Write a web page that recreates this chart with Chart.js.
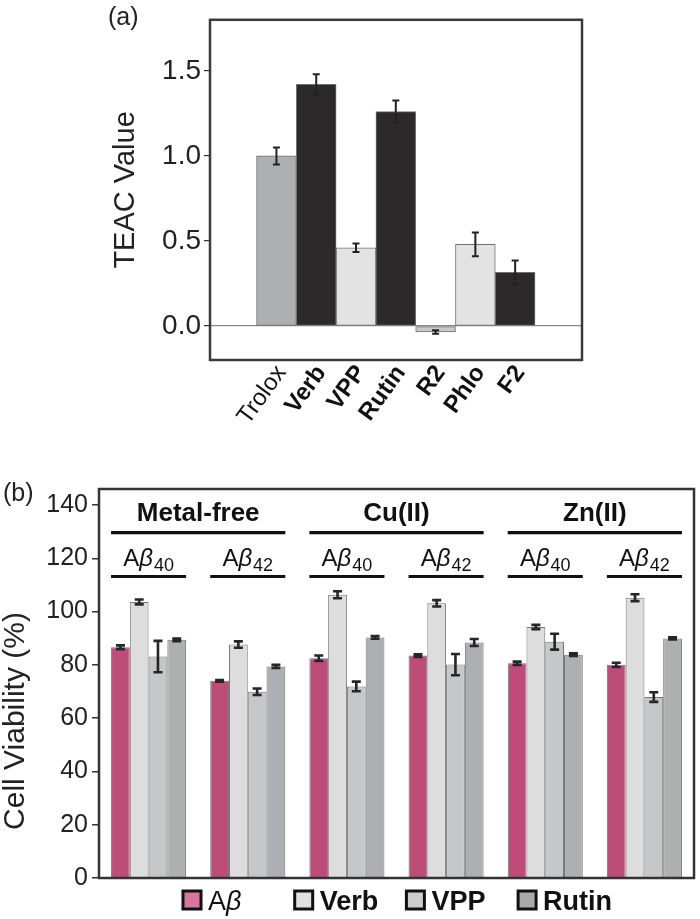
<!DOCTYPE html>
<html>
<head>
<meta charset="utf-8">
<script src="https://cdn.jsdelivr.net/npm/chart.js@4.4.1/dist/chart.umd.min.js"></script>
<style>
  html, body { margin: 0; padding: 0; background: #fff; }
  #wrap { position: relative; width: 700px; height: 919px; }
  canvas { position: absolute; left: 0; }
  #teac { top: 0; }
  #viab { top: 470px; }
</style>
</head>
<body>
<div id="wrap">
  <canvas id="teac" width="700" height="470"></canvas>
  <canvas id="viab" width="700" height="449"></canvas>
</div>
<script>
'use strict';

// ─── Data: panel (a) TEAC ─────────────────────────────────────────
const teacLabels = ['Trolox', 'Verb', 'VPP', 'Rutin', 'R2', 'Phlo', 'F2'];
const teacBold   = [false, true, true, true, true, true, true];
const teacValues = [1.00, 1.42, 0.46, 1.26, -0.035, 0.48, 0.315];
const teacErrors = [0.05, 0.06, 0.025, 0.065, 0.01, 0.07, 0.07];
const teacTicks  = [0, 0.5, 1.0, 1.5];

// ─── Data: panel (b) cell viability ───────────────────────────────
const cvConditions = ['Metal-free', 'Cu(II)', 'Zn(II)'];
const cvPeptides   = ['40', '42'];
const cvCategories = ['Metal-free Aβ40', 'Metal-free Aβ42', 'Cu(II) Aβ40', 'Cu(II) Aβ42', 'Zn(II) Aβ40', 'Zn(II) Aβ42'];
const cvSeries     = ['Aβ', 'Verb', 'VPP', 'Rutin'];
const abValues     = [86.6, 74.0, 82.5, 83.5, 80.6, 80.0];
const abErrors     = [0.7, 0.3, 1.0, 0.5, 0.6, 0.8];
const verbValues   = [103.6, 87.6, 106.3, 103.1, 94.2, 105.2];
const verbErrors   = [0.9, 1.2, 1.3, 1.2, 0.8, 1.3];
const vppValues    = [83.1, 69.9, 71.9, 80.1, 88.7, 67.9];
const vppErrors    = [5.9, 1.2, 1.8, 4.0, 3.0, 1.8];
const rutinValues  = [89.4, 79.4, 90.3, 88.4, 83.8, 89.9];
const rutinErrors  = [0.5, 0.6, 0.5, 1.3, 0.5, 0.4];
const cvTicks      = [0, 20, 40, 60, 80, 100, 120, 140];

// ─── Styling ──────────────────────────────────────────────────────
const FONT = '"Liberation Sans", Arial, Helvetica, sans-serif';
const INK = '#222';
const teacColors = ['#aeafb2', '#2b292a', '#e3e3e3', '#2b292a', '#c9c9cb', '#e3e3e3', '#2b292a'];
const cvColors   = ['#be4c78', '#dddddd', '#c6c7c9', '#aeafb2'];
const cvLegendFill = ['#d6769c', '#e0e0e0', '#cdcdcd', '#a9a9ab'];

Chart.defaults.font.family = FONT;
Chart.defaults.color = INK;
Chart.defaults.animation = false;

// ─── Shared plugins ───────────────────────────────────────────────
// Frame round the plot area
const framePlugin = {
  id: 'frame',
  afterDraw(chart, args, opts) {
    const { ctx, chartArea: a } = chart;
    ctx.save();
    ctx.strokeStyle = opts.color || '#333';
    ctx.lineWidth = opts.width || 2.5;
    ctx.strokeRect(a.left, a.top, a.right - a.left, a.bottom - a.top);
    ctx.restore();
  }
};

// Error bars read from dataset.errors
const errorBarPlugin = {
  id: 'errbars',
  afterDatasetsDraw(chart, args, opts) {
    const { ctx } = chart;
    const y = chart.scales.y;
    ctx.save();
    ctx.strokeStyle = opts.color || '#222';
    ctx.lineWidth = opts.width || 2;
    chart.data.datasets.forEach((ds, d) => {
      if (!ds.errors) return;
      chart.getDatasetMeta(d).data.forEach((bar, i) => {
        const raw = ds.data[i];
        const v = typeof raw === 'object' ? raw.y : raw;
        const e = ds.errors[i];
        const y1 = y.getPixelForValue(v + e), y2 = y.getPixelForValue(v - e);
        const c = opts.cap || 3.5;
        ctx.beginPath();
        ctx.moveTo(bar.x, y1); ctx.lineTo(bar.x, y2);
        ctx.moveTo(bar.x - c, y1); ctx.lineTo(bar.x + c, y1);
        ctx.moveTo(bar.x - c, y2); ctx.lineTo(bar.x + c, y2);
        ctx.stroke();
      });
    });
    ctx.restore();
  }
};

// Panel letter
const panelLetterPlugin = {
  id: 'letter',
  afterDraw(chart, args, opts) {
    const { ctx } = chart;
    ctx.save();
    ctx.font = '25px ' + FONT;
    ctx.fillStyle = INK;
    ctx.textBaseline = 'alphabetic';
    ctx.fillText(opts.text, opts.x, opts.y);
    ctx.restore();
  }
};

// ─── Panel (a) ────────────────────────────────────────────────────
new Chart(document.getElementById('teac'), {
  type: 'bar',
  data: {
    datasets: [{
      label: 'TEAC',
      data: teacValues.map((v, i) => ({ x: i, y: v })),
      errors: teacErrors,
      backgroundColor: teacColors,
      borderColor: '#707070',
      borderWidth: 1,
      borderSkipped: false,
      categoryPercentage: 1,
      barPercentage: 1,
    }]
  },
  options: {
    responsive: false,
    layout: { padding: { left: 109, top: 9, right: 118, bottom: 0 } },
    scales: {
      x: {
        type: 'linear',
        offset: false,
        min: -1.67,
        max: 7.68,
        grid: { display: false },
        border: { display: false },
        afterBuildTicks: s => { s.ticks = teacLabels.map((_, i) => ({ value: i })); },
        afterFit: s => { s.height = 110; },
        ticks: {
          autoSkip: false,
          minRotation: 54,
          maxRotation: 54,
          padding: -8,
          labelOffset: 5,
          color: '#111',
          font: ctx => ({ size: 24, weight: teacBold[ctx.index] ? 'bold' : 'normal', family: FONT }),
          callback: v => teacLabels[v] ?? '',
        },
      },
      y: {
        min: -0.2,
        max: 1.8,
        afterBuildTicks: s => { s.ticks = teacTicks.map(v => ({ value: v })); },
        afterFit: s => { s.width = 101; },
        border: { display: false },
        grid: {
          drawOnChartArea: true,
          color: ctx => (ctx.tick && ctx.tick.value === 0 ? '#8a8a8a' : 'rgba(0,0,0,0)'),
          lineWidth: 1.2,
          tickColor: '#333',
          tickLength: 6,
        },
        ticks: {
          padding: 3,
          font: { size: 28 },
          color: INK,
          callback: v => Number(v).toFixed(1),
        },
        title: {
          display: true,
          text: 'TEAC Value',
          color: INK,
          font: { size: 29 },
          padding: 0,
        },
      },
    },
    plugins: {
      legend: { display: false },
      tooltip: { enabled: false },
      frame: { color: '#3a3a3a', width: 2.5 },
      errbars: { color: '#222', width: 2, cap: 3.5 },
      letter: { text: '(a)', x: 108, y: 25 },
    },
  },
  plugins: [framePlugin, errorBarPlugin, panelLetterPlugin],
});

// ─── Panel (b) annotations: condition headers, legend, axis title ─
function drawAbeta(ctx, cx, baseline, sub, size) {
  const norm = size + 'px ' + FONT, ital = 'italic ' + size + 'px ' + FONT;
  const small = Math.round(size * 0.75) + 'px ' + FONT;
  ctx.font = norm; const wA = ctx.measureText('A').width;
  ctx.font = ital; const wB = ctx.measureText('β').width;
  ctx.font = small; const wS = sub ? ctx.measureText(sub).width : 0;
  let x = cx - (wA + wB + (sub ? 1 + wS : 0)) / 2;
  ctx.textAlign = 'left';
  ctx.font = norm; ctx.fillText('A', x, baseline); x += wA;
  ctx.font = ital; ctx.fillText('β', x, baseline); x += wB + 1;
  if (sub) { ctx.font = small; ctx.fillText(sub, x, baseline + 5); }
  return wA + wB;
}

const viabilityDecor = {
  id: 'viabDecor',
  afterDraw(chart) {
    const { ctx, chartArea: a } = chart;
    const first = chart.getDatasetMeta(0).data;
    const last = chart.getDatasetMeta(chart.data.datasets.length - 1).data;
    const leftOf = i => first[i].x - first[i].width / 2;
    const rightOf = i => last[i].x + last[i].width / 2;
    ctx.save();
    ctx.fillStyle = '#111';
    ctx.textBaseline = 'alphabetic';

    // Condition headers with underline
    cvConditions.forEach((name, g) => {
      const l = leftOf(2 * g), r = rightOf(2 * g + 1);
      ctx.font = 'bold 26px ' + FONT;
      ctx.textAlign = 'center';
      ctx.fillText(name, (l + r) / 2, a.top + 32);
      ctx.fillRect(l, a.top + 42, r - l, 3.3);
      // Peptide sub-headers
      cvPeptides.forEach((p, k) => {
        const i = 2 * g + k;
        const pl = leftOf(i), pr = rightOf(i);
        drawAbeta(ctx, (pl + pr) / 2, a.top + 77, p, 24);
        ctx.fillRect(pl, a.top + 86, pr - pl, 3);
      });
    });

    // Legend with fixed pitch
    const pitch = 111.7;
    let bx = (a.left + a.right) / 2 - 213.5;
    const by = a.bottom + 13;
    cvSeries.forEach((name, s) => {
      ctx.fillStyle = cvLegendFill[s];
      ctx.fillRect(bx, by, 18, 18);
      ctx.strokeStyle = '#111';
      ctx.lineWidth = 3;
      ctx.strokeRect(bx, by, 18, 18);
      ctx.fillStyle = '#111';
      const tx = bx + 25, base = by + 19;
      if (name === 'Aβ') {
        ctx.font = '27px ' + FONT; const wA = ctx.measureText('A').width;
        ctx.textAlign = 'left';
        ctx.fillText('A', tx, base);
        ctx.font = 'italic 27px ' + FONT;
        ctx.fillText('β', tx + wA, base);
      } else {
        ctx.font = 'bold 27px ' + FONT;
        ctx.textAlign = 'left';
        ctx.fillText(name, tx, base);
      }
      bx += pitch;
    });

    // Y axis title
    ctx.save();
    ctx.translate(16, 251);
    ctx.rotate(-Math.PI / 2);
    ctx.font = '30px ' + FONT;
    ctx.fillStyle = INK;
    ctx.textAlign = 'center';
    ctx.textBaseline = 'middle';
    ctx.fillText('Cell Viability (%)', 0, 0);
    ctx.restore();

    ctx.restore();
  }
};

// ─── Panel (b) ────────────────────────────────────────────────────
const cvValues = [abValues, verbValues, vppValues, rutinValues];
const cvErrors = [abErrors, verbErrors, vppErrors, rutinErrors];

new Chart(document.getElementById('viab'), {
  type: 'bar',
  data: {
    labels: cvCategories,
    datasets: cvSeries.map((name, s) => ({
      label: name,
      data: cvValues[s],
      errors: cvErrors[s],
      backgroundColor: cvColors[s],
      borderColor: '#777',
      borderWidth: 1,
      borderSkipped: 'bottom',
      categoryPercentage: 0.757,
      barPercentage: 1,
    })),
  },
  options: {
    responsive: false,
    layout: { padding: { left: 0, top: 15, right: 6, bottom: 41 } },
    scales: {
      x: { display: false },
      y: {
        min: 0,
        max: 146,
        afterBuildTicks: s => { s.ticks = cvTicks.map(v => ({ value: v })); },
        afterFit: s => { s.width = 99; },
        border: { display: false },
        grid: { drawOnChartArea: false, tickColor: '#333', tickLength: 7, lineWidth: 1.5 },
        ticks: { padding: 4, font: { size: 25 }, color: INK },
      },
    },
    plugins: {
      legend: { display: false },
      tooltip: { enabled: false },
      frame: { color: '#333', width: 2.5 },
      errbars: { color: '#262626', width: 2.6, cap: 4.5 },
      letter: { text: '(b)', x: 3, y: 31 },
    },
  },
  plugins: [framePlugin, errorBarPlugin, viabilityDecor, panelLetterPlugin],
});
</script>
</body>
</html>
